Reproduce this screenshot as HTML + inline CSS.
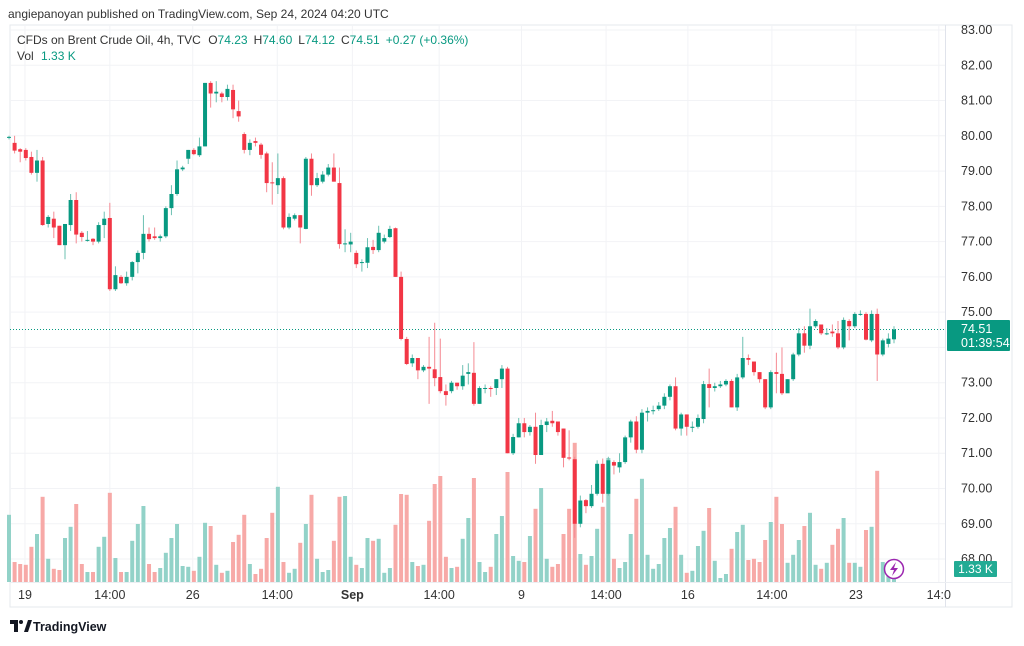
<!DOCTYPE html>
<html><head><meta charset="utf-8"><style>
body{margin:0;background:#fff;width:1024px;height:641px;overflow:hidden;font-family:"Liberation Sans",sans-serif;}
svg text{font-family:"Liberation Sans",sans-serif;}
</style></head><body>
<svg id="chart" width="1024" height="641" xmlns="http://www.w3.org/2000/svg">
<text x="8" y="18" font-size="12" fill="#333">angiepanoyan published on TradingView.com, Sep 24, 2024 04:20 UTC</text>
<rect x="10" y="25" width="1002" height="582" fill="none" stroke="#e6e8ec"/>
<g id="grid"></g>
<g id="vols"></g>
<line x1="10" x2="945" y1="329.5" y2="329.5" stroke="#089981" stroke-dasharray="1,2"/>
<g id="candles"></g>
<line x1="945.5" x2="945.5" y1="25" y2="607" stroke="#e0e3eb"/>
<line x1="10" x2="1012" y1="582.5" y2="582.5" stroke="#eceef2"/>
<g id="yaxis"></g>
<g id="xaxis"></g>
<text x="17" y="44" font-size="12" fill="#333">CFDs on Brent Crude Oil, 4h, TVC <tspan dx="4" fill="#333">O</tspan><tspan fill="#089981">74.23</tspan><tspan dx="6" fill="#333">H</tspan><tspan fill="#089981">74.60</tspan><tspan dx="6" fill="#333">L</tspan><tspan fill="#089981">74.12</tspan><tspan dx="6" fill="#333">C</tspan><tspan fill="#089981">74.51</tspan><tspan dx="6" fill="#089981">+0.27 (+0.36%)</tspan></text>
<text x="17" y="60" font-size="12" fill="#333">Vol <tspan dx="4" fill="#089981">1.33 K</tspan></text>
<rect x="947" y="320" width="63" height="31" rx="1" fill="#089981"/>
<text x="961" y="333" font-size="12.5" fill="#fff">74.51</text>
<text x="961" y="347" font-size="12.5" fill="#fff">01:39:54</text>
<rect x="954" y="561" width="43" height="16" rx="1" fill="#22ab94"/>
<text x="975.5" y="573" font-size="12" fill="#fff" text-anchor="middle">1.33 K</text>
<g><circle cx="894" cy="569" r="9.5" fill="#fff" stroke="#9c27b0" stroke-width="1.5"/><path d="M896 562 L890 570 L894 570 L892 576 L898 568 L894 568 Z" fill="#9c27b0"/></g>
<g><path d="M10 620 H18 V632 H14 V624 H10 Z" fill="#131722"/><circle cx="21" cy="622" r="2" fill="#131722"/><path d="M24 632 L28 620 H32 L28 632 Z" fill="#131722"/>
<text x="33" y="631" font-size="12.5" font-weight="bold" fill="#131722">TradingView</text></g>
</svg>
<script>
const opens=[79.95,79.8,79.62,79.6,79.4,78.95,79.3,77.5,77.65,77.45,76.9,77.47,78.18,77.25,77.05,77.08,77.0,77.47,77.67,75.65,76.0,75.82,76.0,76.42,76.68,77.22,77.15,77.1,77.15,77.95,78.35,79.05,79.35,79.6,79.45,79.7,81.5,81.2,81.2,81.1,81.3,80.7,
80.05,79.6,79.85,79.75,79.5,78.68,78.6,78.8,77.4,77.65,77.75,77.36,79.35,78.6,78.7,78.9,79.1,78.66,76.95,76.92,76.68,76.4,76.4,76.85,76.76,77.0,77.13,77.38,76.0,74.24,73.55,73.7,73.35,73.45,73.38,73.16,72.76,72.76,73.0,72.9,73.25,
73.28,72.4,72.85,72.85,72.85,73.1,73.4,71.0,71.45,71.85,71.6,71.75,70.95,71.8,71.92,71.9,71.7,70.88,70.83,69.0,69.67,69.5,69.85,70.7,69.85,70.75,70.6,70.75,71.45,71.9,71.1,72.15,72.22,72.25,72.35,72.6,72.9,71.7,72.1,71.75,71.75,
71.97,72.96,72.85,72.9,72.95,73.05,72.3,73.15,73.7,73.6,73.3,73.1,72.3,73.3,73.25,72.7,73.1,73.8,74.4,74.05,74.6,74.65,74.4,74.45,74.4,74.0,74.75,74.6,74.95,74.95,74.2,74.95,73.8,74.1,74.23];
const highs=[80.0,80.0,79.65,79.65,79.55,79.6,79.4,77.75,77.85,77.45,77.5,78.35,78.4,77.3,77.3,77.1,77.55,77.85,78.1,76.3,76.05,76.15,76.45,76.75,77.75,77.4,77.4,77.2,78.0,78.6,79.3,79.15,79.6,79.65,79.95,81.5,81.55,81.55,81.25,81.45,81.45,81.0,
80.1,79.9,79.95,79.8,79.55,79.25,79.5,78.85,77.8,77.8,77.75,79.4,79.5,78.95,79.0,79.2,79.5,79.1,77.35,77.25,76.75,76.5,77.1,77.05,77.45,77.2,77.45,77.4,76.15,74.3,73.8,73.7,73.5,74.3,74.7,74.25,72.95,73.05,73.0,73.5,73.55,
74.15,72.9,72.95,72.9,73.1,73.5,73.45,71.55,72.0,72.0,71.8,72.15,71.95,72.0,72.2,71.9,71.7,71.65,70.9,69.8,69.7,70.1,70.8,70.85,70.9,70.8,71.0,71.5,71.95,72.05,72.25,72.3,72.35,72.45,72.7,72.95,73.15,72.15,72.1,71.9,72.1,
73.05,73.4,73.0,73.05,73.1,73.1,73.25,74.3,73.8,73.6,73.3,73.1,73.35,73.85,74.0,73.1,73.85,74.55,74.6,75.1,74.8,74.65,74.55,74.65,74.75,74.85,74.8,75.0,75.05,75.0,75.05,75.1,74.25,74.4,74.6];
const lows=[79.9,79.5,79.25,79.3,78.9,78.7,77.45,77.4,77.1,76.9,76.5,77.3,76.95,77.0,77.0,76.9,76.95,77.1,75.6,75.6,75.8,75.75,75.9,76.1,76.5,77.0,77.05,77.0,77.1,77.75,78.3,79.0,79.2,79.45,79.4,79.7,80.8,80.95,80.95,81.0,80.5,80.4,
79.5,79.45,79.7,79.35,78.4,78.05,78.35,77.35,77.35,77.6,76.95,77.35,78.3,78.55,78.65,78.85,78.7,76.8,76.7,76.7,76.25,76.15,76.25,76.65,76.7,76.95,77.1,76.0,74.2,73.5,73.45,73.1,73.3,72.4,72.9,72.7,72.35,72.7,72.8,72.8,72.95,
72.35,72.4,72.7,72.6,72.65,72.85,71.0,70.95,71.45,71.45,71.5,70.7,70.95,71.6,71.75,71.5,70.6,70.8,68.6,68.9,69.3,69.45,69.8,69.6,69.8,70.4,70.45,70.7,71.3,71.0,71.0,71.9,72.1,72.2,72.25,72.5,71.65,71.5,71.5,71.6,71.7,
71.85,72.3,72.75,72.85,72.9,72.3,72.2,73.1,73.5,73.2,73.0,72.25,72.25,72.7,72.65,72.75,73.05,73.75,73.85,73.95,74.55,74.35,74.35,74.3,73.95,73.95,74.2,74.55,74.9,74.2,74.15,73.05,73.75,74.0,74.12];
const closes=[79.97,79.58,79.55,79.37,78.95,79.3,77.47,77.7,77.4,76.9,77.5,78.18,77.2,77.13,77.05,77.0,77.47,77.65,75.65,76.05,75.82,76.0,76.42,76.68,77.22,77.07,77.1,77.15,77.95,78.35,79.05,79.1,79.6,79.48,79.7,81.5,81.2,81.25,81.1,81.33,80.75,80.55,
79.6,79.8,79.8,79.46,78.66,78.66,78.8,77.4,77.7,77.75,77.4,79.35,78.6,78.8,78.9,79.1,78.7,76.93,76.95,77.0,76.36,76.42,76.84,76.76,77.25,77.1,77.36,76.0,74.24,73.53,73.7,73.35,73.45,73.4,73.13,72.76,72.65,73.0,72.9,73.2,73.3,
72.4,72.85,72.85,72.82,73.1,73.4,71.0,71.46,71.85,71.6,71.75,70.95,71.8,71.9,71.85,71.6,70.87,70.85,69.0,69.66,69.5,69.85,70.7,69.85,70.8,70.65,70.75,71.45,71.9,71.1,72.15,72.2,72.22,72.35,72.6,72.9,71.7,72.1,71.75,71.75,72.0,
72.96,72.85,72.9,72.95,73.05,72.3,73.15,73.7,73.65,73.3,73.1,72.3,73.3,73.25,72.7,73.1,73.8,74.4,74.05,74.6,74.75,74.4,74.4,74.4,74.0,74.78,74.6,74.95,74.95,74.22,74.95,73.8,74.2,74.25,74.51];
const volumes=[16.8,5,4.5,4.3,8.8,12,21.3,5.8,3.3,3,11,13.8,19.5,4.5,2.5,2.5,8.8,11.3,22.3,6,2.5,2.5,10.3,14.5,19,4.5,2.5,3.5,7.3,11,14.5,4,3.8,2.8,6.3,14.8,14,4.3,2.3,2.8,10,11.8,
16.8,4.5,2,3.3,11,17.3,23.8,5,2.3,3.3,9.8,14.5,21.8,5.8,2.5,3,10.3,21.3,21.5,6.3,4.3,3.5,11,10.3,10.8,2.3,3.5,14.3,22,21.8,5,4,4.3,15.3,24.5,26.5,6.3,3.5,3.8,10.8,
16,26,5,2.5,3.8,12,16.5,27.5,6.5,5.3,5,11.5,18.3,23.5,5.8,3.8,4.5,12,18.3,34.8,7,4.3,6.5,13.3,18.8,31,5.8,3.5,5,12,20.8,25.8,6.8,3.3,4.5,11,13.5,18.8,6.8,2.3,
2.8,9,12.8,18.5,5.3,1,2,8.3,12.5,14.3,5.5,5.8,5,10.5,15,21.3,14.5,4.8,6.8,10.5,14,17.3,4.3,3.3,4.8,9.3,13.3,16,4.8,4.8,3.8,13,13.8,27.8,5,3.8,1.33];
const priceTicks=["83.00","82.00","81.00","80.00","79.00","78.00","77.00","76.00","75.00","74.00","73.00","72.00","71.00","70.00","69.00","68.00"];
const timeLabels=["19","14:00","26","14:00","Sep","14:00","9","14:00","16","14:00","23","14:0"];
const timeIdx=[2.85,18.0,32.8,47.9,61.3,76.8,91.5,106.6,121.2,136.2,151.2,166];

const NS="http://www.w3.org/2000/svg";
const X0=9,X1=894,N=closes.length;
const step=(X1-X0)/(N-1);
const xs=i=>X0+i*step;
const ys=p=>30+(83-p)*35.27;
const VBASE=582,VK=4;
function mk(tag,attrs,parent){const e=document.createElementNS(NS,tag);for(const k in attrs)e.setAttribute(k,attrs[k]);parent.appendChild(e);return e;}
const grid=document.getElementById('grid'),ya=document.getElementById('yaxis'),xa=document.getElementById('xaxis');
priceTicks.forEach(t=>{const y=ys(parseFloat(t));
 const g=mk('line',{x1:10,x2:945,y1:y,y2:y,stroke:'#f2f3f6'},grid);
 
 
 if(t==="74.00")return;
 const tx=mk('text',{x:961,y:y+4,'font-size':12.5,fill:'#333'},ya);tx.textContent=t;
 
 
});
timeLabels.forEach((t,k)=>{const x=xs(timeIdx[k]);
 if(x<940){const g=mk('line',{x1:x,x2:x,y1:25,y2:582,stroke:'#f2f3f6'},grid);
 
 }
 const tx=mk('text',{x:x,y:599,'font-size':12.5,fill:'#333','text-anchor':'middle','font-weight':t==='Sep'?'bold':'normal'},xa);tx.textContent=t;
 
 
});
const vg=document.getElementById('vols'),cg=document.getElementById('candles');
for(let i=0;i<N;i++){
 const up=closes[i]>=opens[i];const x=xs(i);
 const h=volumes[i]*VK;
 const vb=mk('rect',{x:x-2,y:VBASE-h,width:4,height:h,fill:up?'#92d2c8':'#f7a9a7'},vg);
 
 
 const col=up?'#089981':'#f23645';
 const w=mk('line',{x1:x,x2:x,y1:ys(highs[i]),y2:ys(lows[i]),stroke:up?'#6cc0b2':'#f58a93','stroke-width':1},cg);
 
 
 const top=ys(Math.max(opens[i],closes[i])),bot=ys(Math.min(opens[i],closes[i]));
 const b=mk('rect',{x:x-2,y:top,width:4,height:Math.max(1,bot-top),fill:col},cg);
 
 
}
</script>
</body></html>
